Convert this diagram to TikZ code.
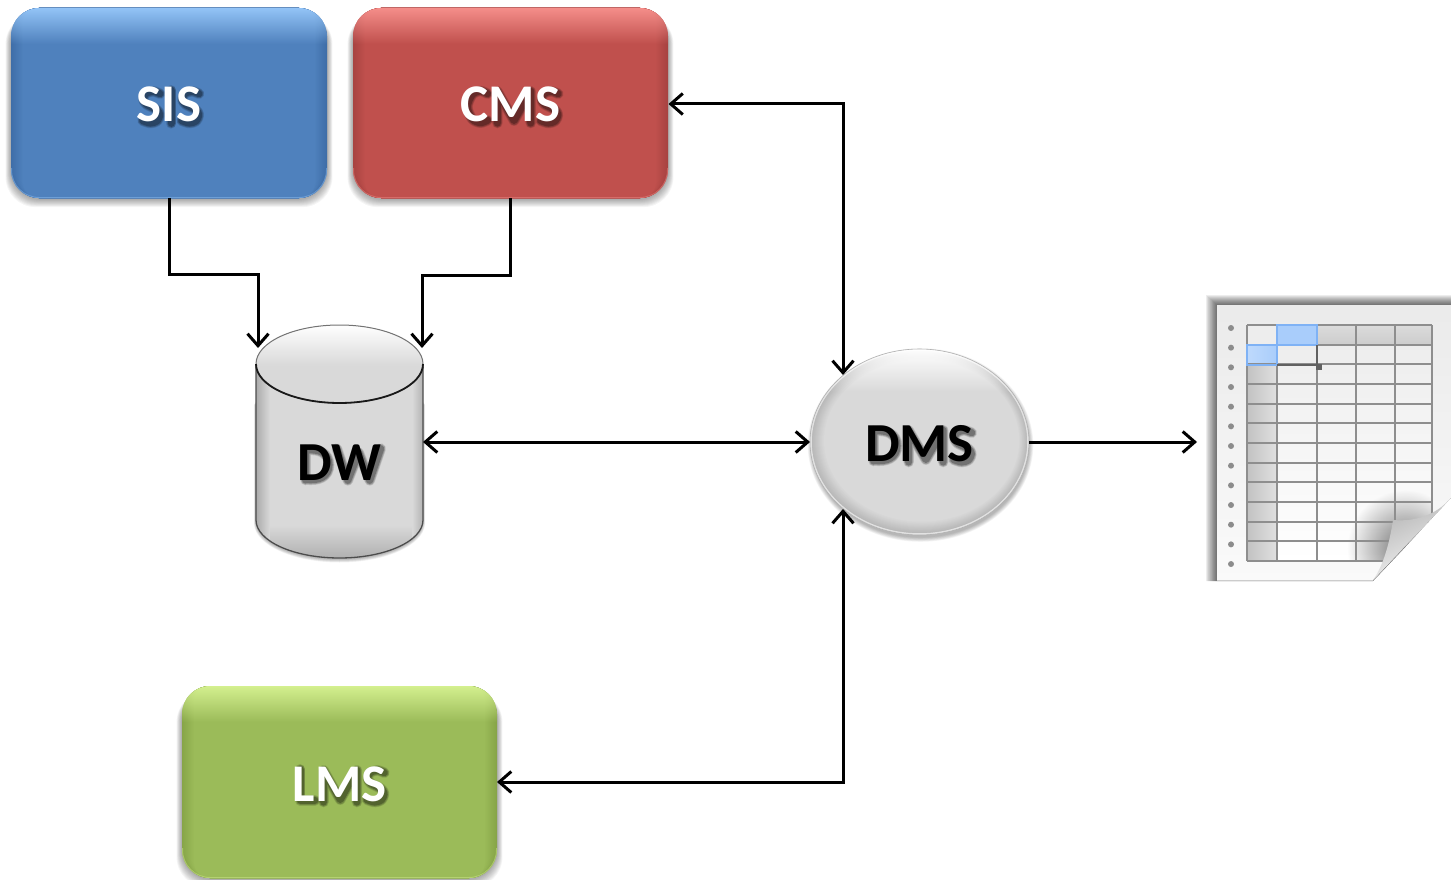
\documentclass[tikz,border=0pt]{standalone}
\usepackage{fontspec}
\setmainfont{Carlito}
\usetikzlibrary{arrows.meta,shapes.geometric,fadings}
\tikzfading[name=glossdown,top color=transparent!0,bottom color=transparent!100]
\tikzfading[name=softspot,inner color=transparent!45,outer color=transparent!100]
% rounded gloss box: x0 y0 x1 y1 base edge light
\newcommand{\glossbox}[7]{%
  \foreach \i in {0,...,8}{%
    \pgfmathsetmacro{\ofs}{9-\i}
    \fill[black,opacity=.04,rounded corners=30pt]
      (#1-\ofs*.6,#2+6) rectangle (#3+\ofs*.6,#4+\ofs*.9+1);}%
  \fill[#6,rounded corners=28pt] (#1,#2) rectangle (#3,#4);
  \foreach \i in {1,...,12}{%
    \pgfmathsetmacro{\mx}{100*\i/12}
    \pgfmathsetmacro{\rr}{max(28-\i,8)}
    \fill[#5!\mx!#6,rounded corners=\rr pt] (#1+\i,#2) rectangle (#3-\i,#4);}%
  \begin{scope}
    \clip[rounded corners=28pt] (#1,#2) rectangle (#3,#4);
    \fill[#7,path fading=glossdown] (#1,#2) rectangle (#3,#2+36);
    \draw[#7,opacity=.45,line width=2pt,rounded corners=28pt] (#1,#4-30) -- (#1,#4) -- (#3,#4) -- (#3,#4-30);
  \end{scope}%
}
% soft text shadow, drawn as strokes under the letters
\def\pS{plot[smooth] coordinates {(.84,.88) (.55,.95) (.27,.88) (.17,.72) (.3,.57) (.7,.42) (.83,.27) (.72,.09) (.45,.03) (.14,.1)}}
\def\pI{(.5,.02) -- (.5,.98)}
\def\pC{plot[smooth] coordinates {(.88,.88) (.62,.96) (.33,.85) (.16,.5) (.33,.15) (.62,.04) (.88,.11)}}
\def\pM{(.14,.03) -- (.14,.95) -- (.5,.1) -- (.86,.95) -- (.86,.03)}
\def\pL{(.24,.98) -- (.24,.08) -- (.9,.08)}
\def\pD{(.18,.06) -- (.18,.94) (.18,.92) .. controls (.55,.98) and (.86,.85) .. (.86,.5) .. controls (.86,.15) and (.55,.02) .. (.18,.08)}
\def\pW{(.06,.97) -- (.28,.05) -- (.5,.85) -- (.72,.05) -- (.94,.97)}
\newcommand{\ghost}[4]{%
  \begin{scope}[shift={(#1+2.1,#2+2.1)},x=#3pt,y=34.5pt]
    \foreach \w/\o in {10.5/.12,9/.18,7/.26}{%
      \draw[black,opacity=\o,line width=\w pt,line join=round,line cap=round] #4;}
  \end{scope}%
}
\definecolor{sisbase}{HTML}{4F81BD}\definecolor{sisedge}{HTML}{3F6EA8}\definecolor{sislight}{HTML}{93C4F7}
\definecolor{cmsbase}{HTML}{C0504D}\definecolor{cmsedge}{HTML}{A84341}\definecolor{cmslight}{HTML}{F58E8A}
\definecolor{lmsbase}{HTML}{9BBB59}\definecolor{lmsedge}{HTML}{87A548}\definecolor{lmslight}{HTML}{D4F08F}
\definecolor{gridline}{HTML}{8E8E8E}
\definecolor{selblue}{HTML}{A9CDFB}\definecolor{seledge}{HTML}{7FB2F5}
\definecolor{dmsbase}{HTML}{D9D9D9}\definecolor{dmsrim}{HTML}{B4B4B4}
\tikzset{
  boxlabel/.style={minimum width=#1,minimum height=190pt,inner sep=0pt,outer sep=0pt,text height=38pt,text depth=0pt,font=\bfseries\fontsize{53}{53}\selectfont},
  boxlabel/.default=316pt,
  bigword/.style={font=\bfseries\fontsize{55}{55}\selectfont,inner sep=0pt,outer sep=0pt,text height=38pt,text depth=0pt},
  link/.style={draw=black,line width=3pt,
     arrows={-Straight Barb[length=12pt,width=21pt,line width=3pt]}},
  duplex/.style={draw=black,line width=3pt,
     arrows={Straight Barb[length=12pt,width=21pt,line width=3pt]-Straight Barb[length=12pt,width=21pt,line width=3pt]}},
  gridrule/.style={draw=gridline,line width=1.9pt},
}
\begin{document}
\begin{tikzpicture}[x=1pt,y=-1pt]
\useasboundingbox (0,0) rectangle (1451,880);
\fill[white] (0,0) rectangle (1451,880);

% ---- coloured boxes
\glossbox{11}{8}{327}{198}{sisbase}{sisedge}{sislight}
\glossbox{353}{8}{668}{198}{cmsbase}{cmsedge}{cmslight}
\glossbox{182}{686}{497}{878}{lmsbase}{lmsedge}{lmslight}
\ghost{137}{122}{25}{\pS}\ghost{162}{122}{14}{\pI}\ghost{176}{122}{25}{\pS}
\ghost{460.8}{122}{28}{\pC}\ghost{488.8}{122}{46.3}{\pM}\ghost{535.1}{122}{25}{\pS}
\ghost{292.6}{801}{22.4}{\pL}\ghost{315}{801}{46.3}{\pM}\ghost{361.3}{801}{25}{\pS}
\node[boxlabel,text=white] (sis) at (169,103) {SIS};
\node[boxlabel,text=white] (cms) at (510.5,103) {CMS};
\node[boxlabel=315pt,minimum height=192pt,text=white] (lms) at (339.5,782) {LMS};

% ---- DW cylinder
\def\dwbody{(256,364) -- (256,520) .. controls (256,541) and (293.4,558) .. (339.5,558) .. controls (385.6,558) and (423,541) .. (423,520) -- (423,364) -- cycle}
\foreach \i in {1,...,7}{
  \fill[black,opacity=.045,shift={(0,1+\i*.5)}] (256-\i*.3,400) -- (256-\i*.3,520) .. controls (256,541) and (293.4,558) .. (339.5,558) .. controls (385.6,558) and (423,541) .. (423+\i*.3,520) -- (423+\i*.3,400) -- cycle;}
\begin{scope}
  \clip \dwbody;
  \fill[dmsbase] (256,364) rectangle (423,560);
  \shade[left color=black!33,right color=dmsbase] (256,364) rectangle (270,560);
  \shade[left color=dmsbase,right color=black!30] (412,364) rectangle (423,560);
  \shade[top color=dmsbase,bottom color=black!32] (270,525) rectangle (412,560);
\end{scope}
\draw[black!70,line width=1.3pt] (256,364) -- (256,520) .. controls (256,541) and (293.4,558) .. (339.5,558) .. controls (385.6,558) and (423,541) .. (423,520) -- (423,364);
\fill[dmsbase] (339.5,364) ellipse[x radius=83.5,y radius=39];
\begin{scope}
  \clip (339.5,364) ellipse[x radius=83.5,y radius=39];
  \fill[white,path fading=glossdown] (256,325) rectangle (423,366);
\end{scope}
\draw[black!55,line width=1pt] (339.5,364) ellipse[x radius=83.5,y radius=39];
\draw[black!90,line width=1.8pt] (256,364) .. controls (256,385.5) and (293.4,403) .. (339.5,403) .. controls (385.6,403) and (423,385.5) .. (423,364);
\node[minimum width=167pt,minimum height=233pt,inner sep=0pt,outer sep=0pt] (dw) at (339.5,441.5) {};
\ghost{297.2}{480}{34.6}{\pD}\ghost{331.8}{480}{49.8}{\pW}
\node[bigword] (dwname) at (339.5,461) {DW};
\coordinate (dwleft) at (258,348);
\coordinate (dwright) at (422,348);

% ---- DMS ellipse
\foreach \i in {1,...,8}{\fill[black,opacity=.04] (920.5,445) ellipse[x radius=108+\i*.6,y radius=92+\i*.6];}
\fill[dmsrim] (919.5,442) ellipse[x radius=109.5,y radius=93];
\foreach \i in {1,...,14}{
  \pgfmathsetmacro{\mx}{100*\i/14}
  \fill[dmsbase!\mx!dmsrim] (919.5+.15*\i,442-.1*\i) ellipse[x radius=109.5-\i*.85,y radius=93-\i*.85];}
\begin{scope}
  \clip (919.5,442) ellipse[x radius=109.5,y radius=93];
  \fill[white,path fading=glossdown] (810,349) rectangle (1030,392);
  \draw[white,opacity=.6,line width=2.5pt] (919.5,442) ellipse[x radius=109,y radius=92.5];
\end{scope}
\draw[black!30,line width=.6pt] (919.5,442) ellipse[x radius=109.5,y radius=93];
\ghost{865.2}{461}{34.6}{\pD}\ghost{899.8}{461}{48}{\pM}\ghost{947.8}{461}{26}{\pS}
\node[ellipse,minimum width=219pt,minimum height=186pt,bigword] (dms) at (919.5,442) {DMS};

% ---- spreadsheet (drawn directly)
\foreach \i in {1,...,10}{
  \fill[black,opacity=.07] (1217-\i*1.1,305-\i*1.0) -- (1451,305-\i*1.0) -- (1451,500) -- (1373,581) -- (1217-\i*1.1,581) -- cycle;}
\shade[top color=black!8,bottom color=black!2] (1217,305) -- (1451,305) -- (1451,498) -- (1373,580) -- (1217,580) -- cycle;
\draw[black!20,line width=.8pt] (1373,580) -- (1217,580);
\foreach \i in {0,...,12}{
  \fill[black!45] (1231,{328+\i*19.67}) circle[radius=3];
}
% grid cells
\shade[top color=black!7,bottom color=white] (1247,345) rectangle (1432,561);
\fill[black!7] (1247,325) rectangle (1277,345);
\fill[selblue] (1277,325) rectangle (1317,345);
\shade[top color=black!14,bottom color=black!20] (1317,325) rectangle (1432,345);
\shade[left color=selblue!75,right color=selblue] (1247,345) rectangle (1277,365);
\shade[left color=black!24,right color=black!12] (1247,365) rectangle (1277,561);
\begin{scope}
  \clip (1330,470) rectangle (1432,561);
  \fill[black,path fading=softspot] (1405,548) circle[radius=58];
\end{scope}
\foreach \c in {1247,1277,1317,1356,1395,1432}{\draw[gridrule] (\c,325) -- (\c,561);}
\foreach \r in {0,...,12}{\draw[gridrule] (1247,{325+\r*19.67}) -- (1432,{325+\r*19.67});}
\draw[seledge,line width=1.9pt] (1277,325) rectangle (1317,345);
\draw[seledge,line width=1.9pt] (1247,345) rectangle (1277,365);
\draw[black!62,line width=1.9pt] (1277,365) -- (1317,365) -- (1317,345);
\fill[black!62] (1316,364) rectangle (1322,370);
% page corner cut and curl
\fill[white] (1451,498) -- (1451,582) -- (1373,582) -- cycle;
\shade[left color=black!30,middle color=white,right color=black!3,shading angle=25]
  (1373,580) .. controls (1384,565) and (1390,540) .. (1393,520)
  .. controls (1415,522) and (1436,515) .. (1451,498) -- cycle;
\coordinate (sheetin) at (1197,442);

% ---- connectors
\coordinate (sisdrop) at (169,274);
\coordinate (cmsdrop) at (510.5,275);
\coordinate (cmsbend) at (843,104);
\coordinate (lmsbend) at (843,782);
\coordinate (dmstop) at (843,375);
\coordinate (dmsbottom) at (843,509);
\draw[link] (sis.south) -- (sisdrop) -| (dwleft);
\draw[link] (cms.south) -- (cmsdrop) -| (dwright);
\draw[duplex] (cms.east |- cmsbend) -- (cmsbend) -- (dmstop);
\draw[duplex] (dw.east |- dms.west) -- (dms.west);
\draw[link] (dms.east) -- (sheetin);
\draw[duplex] (lms.east |- lmsbend) -- (lmsbend) -- (dmsbottom);
\end{tikzpicture}
\end{document}
